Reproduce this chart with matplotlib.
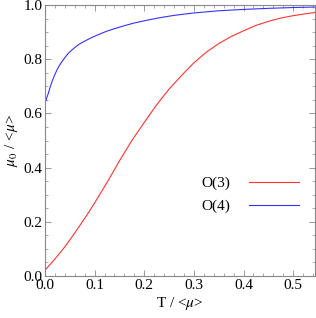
import matplotlib.pyplot as plt
from matplotlib.ticker import MultipleLocator

plt.rcParams['font.family'] = ['Liberation Serif', 'DejaVu Serif']
plt.rcParams['mathtext.fontset'] = 'stix'

# O(3) curve
t_o3 = [0, 0.01, 0.02, 0.03, 0.04, 0.05, 0.06, 0.07, 0.08, 0.09, 0.1, 0.115, 0.13,
        0.15, 0.175, 0.2, 0.225, 0.25, 0.275, 0.3, 0.325, 0.35, 0.375, 0.4, 0.425,
        0.45, 0.475, 0.5, 0.525, 0.55]
mu_o3 = [0.022, 0.042, 0.063, 0.085, 0.108, 0.133, 0.159, 0.186, 0.213, 0.241, 0.27,
         0.315, 0.361, 0.425, 0.5, 0.567, 0.632, 0.69, 0.74, 0.787, 0.826, 0.858, 0.884,
         0.905, 0.925, 0.94, 0.952, 0.961, 0.968, 0.974]

# O(4) curve
t_o4 = [0, 0.003, 0.007, 0.01, 0.014, 0.019, 0.024, 0.029, 0.034, 0.04, 0.047,
        0.054, 0.061, 0.07, 0.082, 0.095, 0.11, 0.125, 0.14, 0.16, 0.18, 0.2, 0.23,
        0.26, 0.3, 0.35, 0.4, 0.45, 0.5, 0.55]
mu_o4 = [0.636, 0.655, 0.676, 0.695, 0.717, 0.74, 0.76, 0.777, 0.791, 0.806, 0.822,
         0.834, 0.845, 0.857, 0.869, 0.881, 0.893, 0.904, 0.913, 0.924, 0.934, 0.942,
         0.953, 0.962, 0.971, 0.979, 0.984, 0.988, 0.991, 0.993]

fig = plt.figure(figsize=(3.16, 3.18), dpi=100)
ax = fig.add_axes([0.1424, 0.132, 0.856, 0.852])

ax.plot(t_o3, mu_o3, color='#ff3333', lw=0.8, label='O(3)')
ax.plot(t_o4, mu_o4, color='#3333ff', lw=0.8, label='O(4)')

ax.set_xlim(0, 0.545)
ax.set_ylim(0, 1.0)
ax.xaxis.set_major_locator(MultipleLocator(0.1))
ax.xaxis.set_minor_locator(MultipleLocator(0.02))
ax.yaxis.set_major_locator(MultipleLocator(0.2))
ax.yaxis.set_minor_locator(MultipleLocator(0.05))
ax.xaxis.set_major_formatter(plt.FormatStrFormatter('%.1f'))
ax.yaxis.set_major_formatter(plt.FormatStrFormatter('%.1f'))

ax.tick_params(which='both', direction='in', top=True, right=True,
               color='#888888', labelsize=11, pad=2)
ax.tick_params(which='major', length=4, width=0.6)
ax.tick_params(which='minor', length=2, width=0.5)
for s in ax.spines.values():
    s.set_color('#888888')
    s.set_linewidth(0.8)

ax.set_xlabel('T / <$\\mu$>', fontsize=11, labelpad=2)
ax.set_ylabel('$\\mu_0$ / <$\\mu$>', fontsize=11, labelpad=2)

ax.legend(loc='center right', bbox_to_anchor=(0.99, 0.3), frameon=False,
          markerfirst=False, fontsize=11, handlelength=3.3, handletextpad=1.2,
          labelspacing=0.6)

fig.savefig('out.png', dpi=100)
